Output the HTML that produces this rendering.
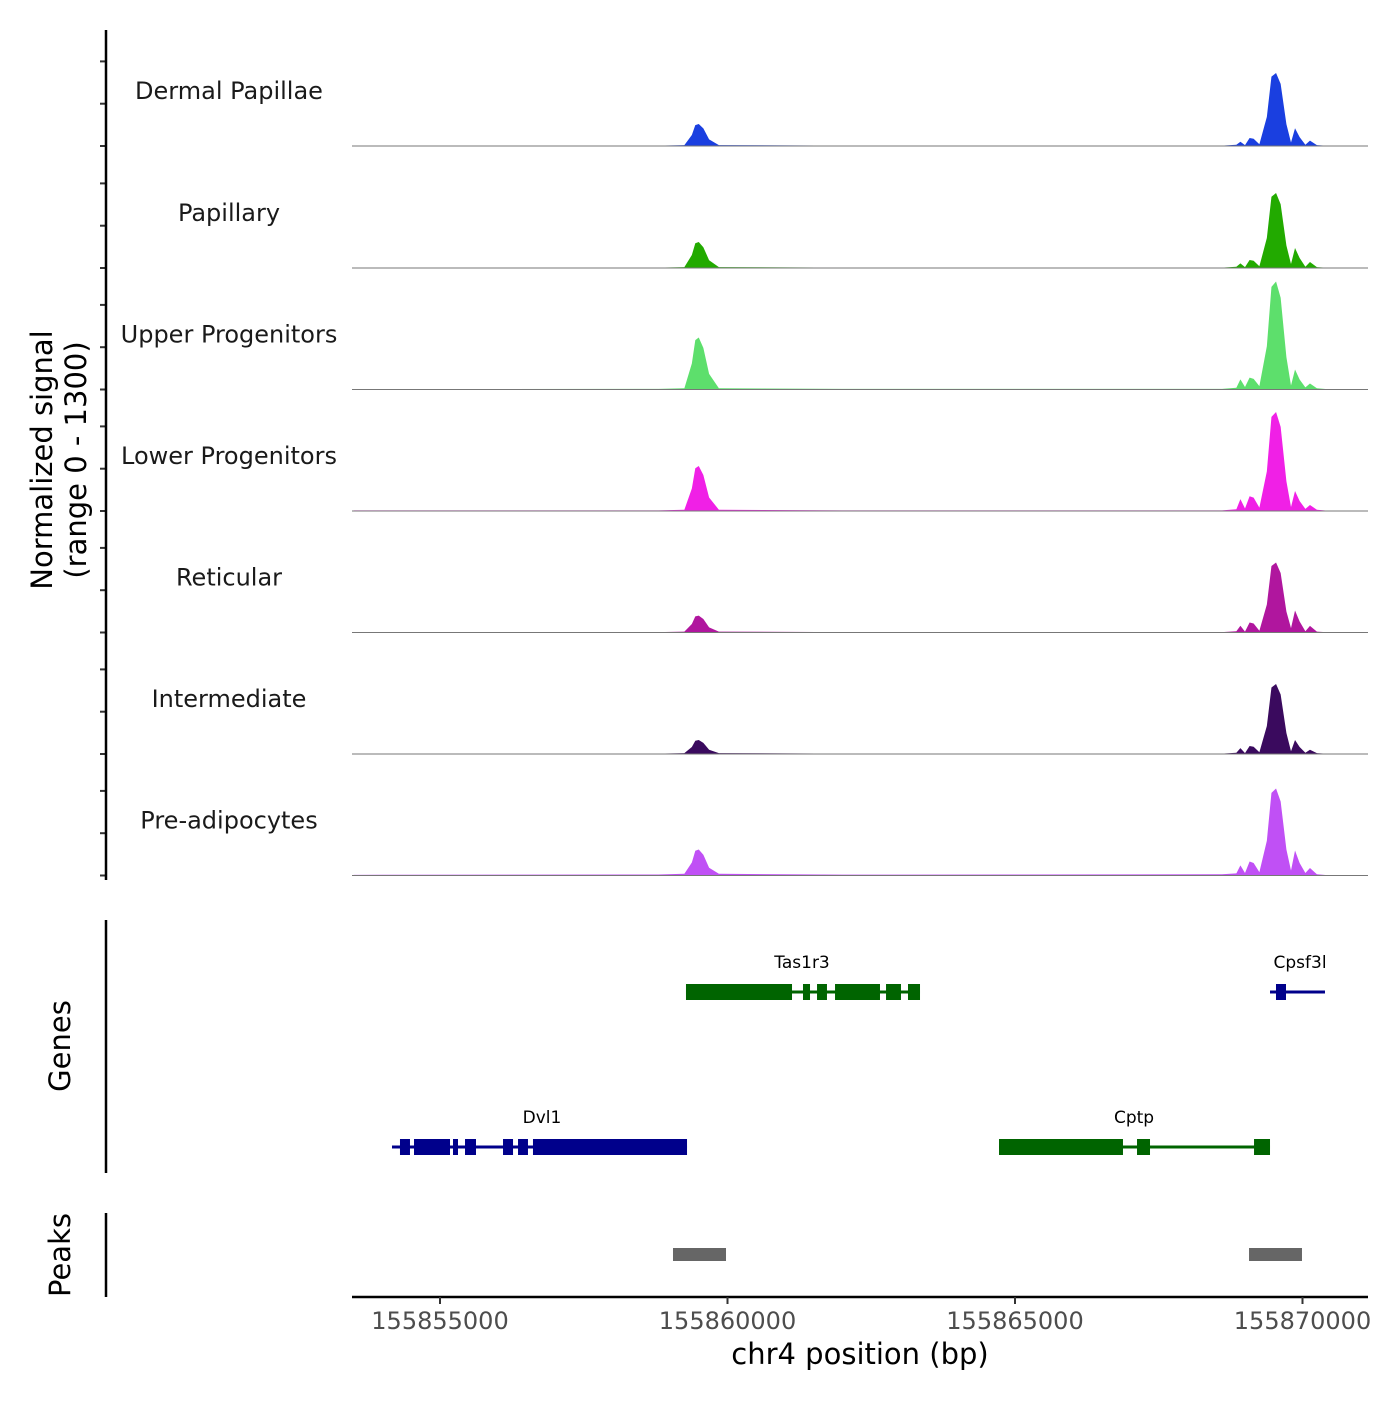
<!DOCTYPE html>
<html><head><meta charset="utf-8"><style>body{margin:0;background:#fff}svg text{font-family:"DejaVu Sans","Liberation Sans",sans-serif}</style></head>
<body>
<svg id="c" width="1400" height="1400" viewBox="0 0 1400 1400" xmlns="http://www.w3.org/2000/svg">
<g id="tracks"></g>
<g id="genes"></g>
<g id="peaks"></g>
<g id="axes"></g>
</svg>
<script>
const trackNames = ["Dermal Papillae","Papillary","Upper Progenitors","Lower Progenitors","Reticular","Intermediate","Pre-adipocytes"];
const trackColors = ["#1a3fe0","#22aa00","#5ddf6c","#f020e6","#b0169e","#3a0a5e","#c050f5"];
const positions = [155853500,155858800,155859250,155859380,155859440,155859500,155859580,155859680,155859850,155862000,155868600,155868850,155868920,155869000,155869080,155869150,155869250,155869380,155869460,155869540,155869620,155869720,155869800,155869870,155869950,155870050,155870130,155870250,155870500,155871100];
const dermalVals = [3,5,10,130,247,260,208,78,10,5,5,15,50,10,95,85,20,345,820,863,734,259,42,210,105,15,63,10,0,0];
const papillaryVals = [3,5,10,154,292,307,246,92,10,5,5,15,55,10,95,85,20,354,842,886,753,266,47,236,118,15,71,10,0,0];
const upperVals = [5,8,15,308,584,615,492,185,15,8,8,20,120,30,140,126,40,511,1213,1277,1085,383,47,236,118,25,71,15,0,0];
const lowerVals = [8,8,15,266,505,532,426,160,15,8,8,20,140,30,175,158,40,468,1112,1170,995,351,47,236,118,25,71,15,0,0];
const reticularVals = [5,5,10,100,190,200,160,60,10,5,5,15,80,10,118,106,20,331,786,827,703,248,52,260,130,15,78,10,0,0];
const intermediateVals = [3,5,10,83,157,165,132,50,10,5,5,15,70,10,95,85,20,331,786,827,703,248,33,165,83,15,50,10,0,0];
const preadipoVals = [8,12,20,154,292,307,246,92,20,10,15,25,120,30,165,148,40,411,977,1028,874,308,59,295,148,30,89,15,0,0];
const allVals = [dermalVals,papillaryVals,upperVals,lowerVals,reticularVals,intermediateVals,preadipoVals];
const yTicks = [0,500,1000];
const xTicks = [155855000,155860000,155865000,155870000];
const xTickLabels = ["155855000","155860000","155865000","155870000"];
const genes = [
 {name:"Tas1r3",start:155859278,end:155863348,row:0,color:"#006400",label:155861296,
  exons:[[155859278,155861122],[155861313,155861435],[155861557,155861730],[155861870,155862652],[155862757,155863017],[155863139,155863348]]},
 {name:"Cpsf3l",start:155869435,end:155870391,row:0,color:"#00008b",label:155869957,
  exons:[[155869539,155869713]]},
 {name:"Dvl1",start:155854165,end:155859296,row:1,color:"#00008b",label:155856774,
  exons:[[155854304,155854478],[155854548,155855174],[155855226,155855313],[155855435,155855626],[155856096,155856270],[155856357,155856530],[155856617,155859296]]},
 {name:"Cptp",start:155864722,end:155869435,row:1,color:"#006400",label:155867070,
  exons:[[155864722,155866878],[155867122,155867348],[155869157,155869435]]}
];
const peakStarts = [155859052,155869070];
const peakEnds = [155859974,155869991];

const NS="http://www.w3.org/2000/svg";
function mk(tag,attrs,parent){const e=document.createElementNS(NS,tag);for(const k in attrs)e.setAttribute(k,attrs[k]);parent.appendChild(e);return e;}
const x = bp => 440 + (bp-155855000)*0.0575;
const baselines=[146,268,389.5,511,632.5,754,875.5];
const yScale = v => v*0.0846;
const T=document.getElementById('tracks');
trackNames.forEach((nm,i)=>{
  const b=baselines[i];
  let d=`M${x(positions[0])},${b}`;
  positions.forEach((p,j)=>{d+=` L${x(p)},${b-yScale(allVals[i][j])}`;});
  d+=` L${x(positions[positions.length-1])},${b} Z`;
  const a=mk('path',{d:d,fill:trackColors[i]},T);
  
  
  const l=mk('line',{x1:352,x2:1368,y1:b,y2:b,stroke:'#777','stroke-width':1},T);
  
  
  const t=mk('text',{x:229,y:b-47,'text-anchor':'middle','font-size':24,fill:'#1a1a1a'},T);
  t.textContent=nm;
  
  
  yTicks.forEach(v=>{
    const tk=mk('line',{x1:100,x2:106,y1:b-yScale(v),y2:b-yScale(v),stroke:'#333','stroke-width':2},T);
    
    
  });
});
const G=document.getElementById('genes');
const rowY=[992,1147];
genes.forEach(g=>{
  const y=rowY[g.row];
  const ln=mk('line',{x1:x(g.start),x2:x(g.end),y1:y,y2:y,stroke:g.color,'stroke-width':3},G);
  
  
  g.exons.forEach(e=>{
    const r=mk('rect',{x:x(e[0]),y:y-8,width:x(e[1])-x(e[0]),height:16,fill:g.color},G);
    
    
  });
  const t=mk('text',{x:x(g.label),y:y-24,'text-anchor':'middle','font-size':17,fill:'#000'},G);
  t.textContent=g.name;
  
  
});
const P=document.getElementById('peaks');
peakStarts.forEach((s,i)=>{
  const r=mk('rect',{x:x(s),y:1248,width:x(peakEnds[i])-x(s),height:13,fill:'#666'},P);
  
  
});
const A=document.getElementById('axes');
[[30,880],[920,1173],[1213,1297]].forEach(s=>{
  const l=mk('line',{x1:106,x2:106,y1:s[0],y2:s[1],stroke:'#000','stroke-width':2.5},A);
  
  
});
const xl=mk('line',{x1:352,x2:1368,y1:1297,y2:1297,stroke:'#000','stroke-width':2.5},A);


xTicks.forEach((v,i)=>{
  const tk=mk('line',{x1:x(v),x2:x(v),y1:1297,y2:1304,stroke:'#333','stroke-width':2},A);
  
  
  const t=mk('text',{x:x(v),y:1329,'text-anchor':'middle','font-size':24,fill:'#4d4d4d'},A);
  t.textContent=xTickLabels[i];
  
  
});
function label(txt,xx,yy,rot,size,name){
  const t=mk('text',{x:xx,y:yy,'text-anchor':'middle','font-size':size,fill:'#000',transform:rot?`rotate(-90 ${xx} ${yy})`:''},A);
  t.textContent=txt;
  
  
}
label("chr4 position (bp)",860,1364,false,29,'x-axis-title');
label("Normalized signal",52,460,true,29,'y-axis-title');
label("(range 0 - 1300)",86,460,true,29,'y-axis-subtitle');
label("Genes",70,1046,true,29,'genes-axis-title');
label("Peaks",70,1255,true,29,'peaks-axis-title');
</script>
</body></html>
